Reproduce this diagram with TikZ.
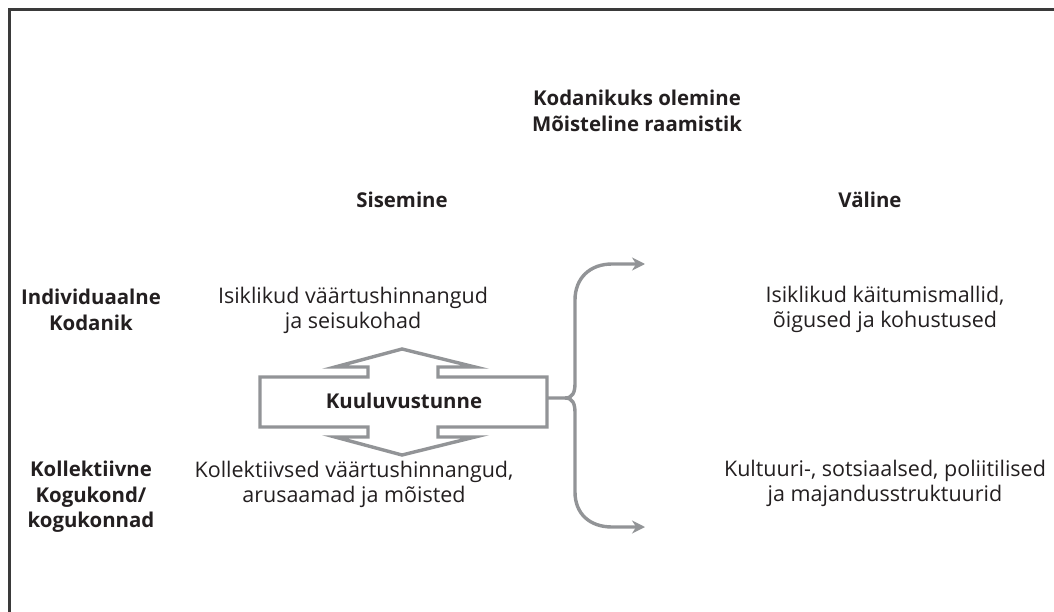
\documentclass[tikz,border=0pt]{standalone}
\usepackage{fontspec}
\setmainfont{Open Sans}
\usetikzlibrary{arrows.meta}
\definecolor{arrowgrey}{HTML}{929497}
\definecolor{framegrey}{HTML}{3A3A3A}
\definecolor{txt}{HTML}{231F20}
\begin{document}
\begin{tikzpicture}[x=1pt,y=-1pt,
  lbl/.style={align=center,text=txt,font=\fontsize{21.5}{25}\selectfont,inner sep=0pt},
  blbl/.style={lbl,font=\fontsize{20.4}{25.5}\selectfont\bfseries},
  dblarrow/.style={draw=arrowgrey,line width=3.4pt,line join=miter},
  brace/.style={draw=arrowgrey,line width=3.4pt,-{Stealth[length=13pt,width=13pt]}}]
\useasboundingbox (0,0) rectangle (1054,612);
\fill[white] (0,0) rectangle (1054,612);
\draw[framegrey,line width=2.2pt] (9.5,612) -- (9.5,9.5) -- (1054,9.5);

\node[blbl] (title) at (637,111) {Kodanikuks olemine\\Mõisteline raamistik};
\node[blbl] (sis) at (402,200) {Sisemine};
\node[blbl] (val) at (870,200) {Väline};
\node[blbl] (ind) at (91,310) {Individuaalne\\Kodanik};
\node[blbl] (kol) at (91,497) {Kollektiivne\\Kogukond/\\kogukonnad};
\node[lbl] (iv) at (353,310) {Isiklikud väärtushinnangud\\ja seisukohad};
\node[lbl] (kv) at (354,484) {Kollektiivsed väärtushinnangud,\\arusaamad ja mõisted};
\node[lbl] (ik) at (885,309) {Isiklikud käitumismallid,\\õigused ja kohustused};
\node[lbl] (ks) at (885,483) {Kultuuri-, sotsiaalsed, poliitilised\\ja majandusstruktuurid};

\draw[dblarrow] (260,377) -- (368,377) -- (368,367) -- (335,367) -- (402,349) -- (475,367)
  -- (438,367) -- (438,377) -- (547,377) -- (547,427) -- (438,427) -- (438,437)
  -- (475,437) -- (402,455) -- (335,437) -- (368,437) -- (368,427) -- (260,427) -- cycle;
\node[blbl] (kuul) at (404,401) {Kuuluvustunne};

\coordinate (bmid) at (547,398);
\coordinate (top) at (645,264);
\coordinate (bot) at (645,527);
\draw[brace] (bmid) -- (565,398) .. controls (573,398) and (575,392) .. (575,383)
  -- (575,300) .. controls (575,278) and (590,264) .. (612,264) -- (top);
\draw[brace] (565,398) .. controls (573,398) and (575,404) .. (575,413)
  -- (575,492) .. controls (575,514) and (590,527) .. (612,527) -- (bot);
\end{tikzpicture}
\end{document}
